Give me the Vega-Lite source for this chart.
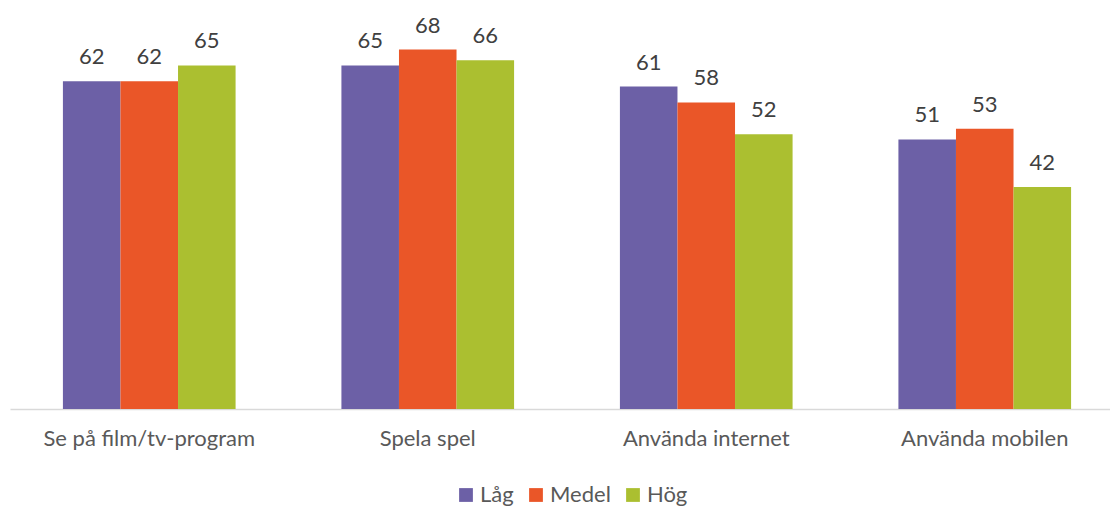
{
  "$schema": "https://vega.github.io/schema/vega-lite/v6.json",
  "autosize": "none",
  "width": 1114,
  "height": 370,
  "padding": {"left": 10, "top": 39, "right": 0, "bottom": 97},
  "background": "white",
  "config": {"view": {"stroke": null}, "font": "Lato"},
  "data": {"values": [
    {"kat": "Se på film/tv-program", "grupp": "Låg", "värde": 62},
    {"kat": "Se på film/tv-program", "grupp": "Medel", "värde": 62},
    {"kat": "Se på film/tv-program", "grupp": "Hög", "värde": 65},
    {"kat": "Spela spel", "grupp": "Låg", "värde": 65},
    {"kat": "Spela spel", "grupp": "Medel", "värde": 68},
    {"kat": "Spela spel", "grupp": "Hög", "värde": 66},
    {"kat": "Använda internet", "grupp": "Låg", "värde": 61},
    {"kat": "Använda internet", "grupp": "Medel", "värde": 58},
    {"kat": "Använda internet", "grupp": "Hög", "värde": 52},
    {"kat": "Använda mobilen", "grupp": "Låg", "värde": 51},
    {"kat": "Använda mobilen", "grupp": "Medel", "värde": 53},
    {"kat": "Använda mobilen", "grupp": "Hög", "värde": 42}
  ]},
  "encoding": {
    "x": {"field": "kat", "type": "nominal", "sort": null,
      "scale": {"paddingInner": 0.38, "paddingOuter": 0.19},
      "axis": {"title": null, "labelAngle": 0, "ticks": false, "domainColor": "#D9D9D9", "domainWidth": 1.5,
        "labelFontSize": 22, "labelColor": "#595959", "labelPadding": 19, "labelFont": "Lato", "labelLimit": 400}},
    "xOffset": {"field": "grupp", "type": "nominal", "sort": ["Låg", "Medel", "Hög"], "scale": {"paddingInner": 0, "paddingOuter": 0}},
    "y": {"field": "värde", "type": "quantitative", "scale": {"domain": [0, 70], "nice": false}, "axis": null}
  },
  "layer": [
    {"mark": {"type": "bar"},
     "encoding": {
       "color": {"field": "grupp", "type": "nominal", "sort": ["Låg", "Medel", "Hög"],
         "scale": {"domain": ["Låg", "Medel", "Hög"], "range": ["#6C60A6", "#EA5628", "#ABBF30"]},
         "legend": {"title": null, "orient": "none", "direction": "horizontal", "legendX": 445, "legendY": 445,
           "symbolType": "square", "symbolSize": 190, "symbolStrokeWidth": 0, "labelFontSize": 22, "labelColor": "#595959",
           "labelFont": "Lato", "columnPadding": 11, "symbolOffset": 0, "labelOffset": 3}}
     }},
    {"mark": {"type": "text", "baseline": "alphabetic", "dy": -17, "fontSize": 22, "color": "#404040", "font": "Lato"},
     "encoding": {"text": {"field": "värde", "type": "quantitative"}}}
  ]
}
